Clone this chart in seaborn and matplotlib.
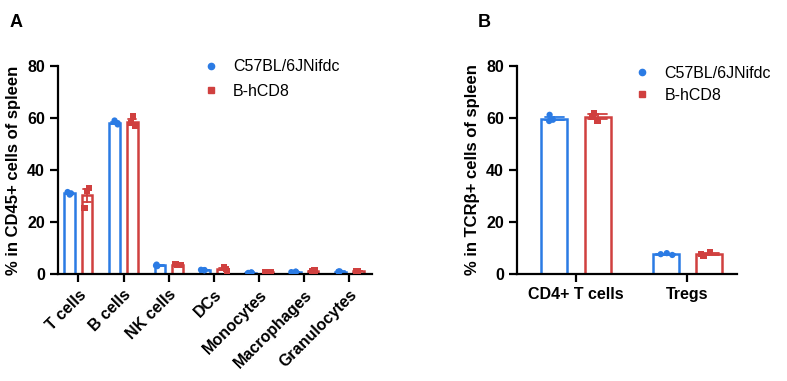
import matplotlib
matplotlib.use("Agg")
import matplotlib.pyplot as plt
import numpy as np
import pandas as pd
import seaborn as sns

np.random.seed(3)

# -----------------------------------------------------------------
# Data (3 mice per group)
# -----------------------------------------------------------------
groups = ["C57BL/6JNifdc", "B-hCD8"]
colors = {"C57BL/6JNifdc": "#2B7BE4", "B-hCD8": "#D0403F"}
markers = {"C57BL/6JNifdc": "o", "B-hCD8": "s"}

cells_a = ["T cells", "B cells", "NK cells", "DCs", "Monocytes", "Macrophages", "Granulocytes"]
wt_a = [
    [30.5, 31.0, 31.5],
    [59.0, 57.5, 58.0],
    [3.6, 3.0, 3.2],
    [1.4, 1.6, 1.5],
    [0.5, 0.4, 0.6],
    [0.8, 0.7, 0.9],
    [0.9, 1.0, 0.8],
]
hcd8_a = [
    [33.0, 32.0, 25.5],
    [60.5, 57.0, 58.0],
    [3.8, 3.3, 3.5],
    [1.0, 2.8, 1.8],
    [0.6, 0.5, 0.7],
    [1.3, 0.9, 1.1],
    [1.0, 1.1, 0.9],
]

cells_b = ["CD4+ T cells", "Tregs"]
wt_b = [
    [58.8, 61.2, 59.3],
    [7.3, 8.0, 7.6],
]
hcd8_b = [
    [62.0, 59.0, 60.5],
    [6.8, 8.5, 7.7],
]


def to_frame(cells, wt, ko):
    rows = []
    for cell, a, b in zip(cells, wt, ko):
        rows += [(cell, groups[0], v) for v in a]
        rows += [(cell, groups[1], v) for v in b]
    return pd.DataFrame(rows, columns=["cell", "group", "value"])


df_a = to_frame(cells_a, wt_a, hcd8_a)
df_b = to_frame(cells_b, wt_b, hcd8_b)

sns.set_style("ticks", {"axes.edgecolor": "black", "text.color": "black",
                        "xtick.color": "black", "ytick.color": "black",
                        "axes.labelcolor": "black"})
plt.rcParams["font.family"] = ["Liberation Sans", "DejaVu Sans"]
plt.rcParams["font.weight"] = "bold"

fig = plt.figure(figsize=(7.87, 3.81), dpi=100)
ax_a = fig.add_axes([0.0737, 0.281, 0.399, 0.546])
ax_b = fig.add_axes([0.657, 0.281, 0.280, 0.546])


def draw(ax, df, order, ylabel):
    # one call per group so each gets its own error-bar colour / marker;
    # dodge=True keeps the slots for both hue levels
    for g in groups:
        sub = df[df.group == g]
        sns.barplot(
            data=sub, x="cell", y="value", hue="group", order=order,
            hue_order=groups, palette=colors, fill=False, width=0.78, gap=0.4,
            dodge=True, errorbar="se", capsize=0.35, linewidth=1.8,
            err_kws={"color": colors[g], "linewidth": 1.3}, ax=ax, legend=False,
        )
        sns.stripplot(
            data=sub, x="cell", y="value", hue="group", order=order,
            hue_order=groups, palette=colors, dodge=True, jitter=0.18,
            marker=markers[g], size=4.5, linewidth=0, ax=ax, legend=False,
        )
    ax.set_ylim(0, 80)
    ax.set_yticks([0, 20, 40, 60, 80])
    ax.set_xlabel("")
    ax.set_ylabel(ylabel, fontsize=12, fontweight="bold")
    sns.despine(ax=ax)
    for s in ["left", "bottom"]:
        ax.spines[s].set_linewidth(1.6)
    ax.tick_params(axis="both", width=1.6, length=6, labelsize=11.5)
    for lab in ax.get_yticklabels() + ax.get_xticklabels():
        lab.set_fontweight("bold")

    handles = [
        plt.Line2D([], [], marker=markers[g], color=colors[g], linestyle="",
                   markersize=4.5)
        for g in groups
    ]
    return handles


handles = draw(ax_a, df_a, cells_a, "% in CD45+ cells of spleen")
ax_a.set_xlim(-0.45, 6.5)
ax_a.set_xticks(range(len(cells_a)))
ax_a.set_xticklabels(cells_a, rotation=45, ha="right", rotation_mode="anchor",
                     fontweight="bold")
ax_a.legend(handles, groups, loc="upper left", bbox_to_anchor=(0.39, 1.10),
            frameon=False, handletextpad=0.4, labelspacing=0.6,
            prop={"size": 11.5, "weight": "normal"})

handles = draw(ax_b, df_b, cells_b, "% in TCRβ+ cells of spleen")
ax_b.set_xlim(-0.53, 1.45)
ax_b.legend(handles, groups, loc="upper left", bbox_to_anchor=(0.43, 1.07),
            frameon=False, handletextpad=0.4, labelspacing=0.45,
            prop={"size": 11.5, "weight": "normal"})

fig.text(0.012, 0.93, "A", fontsize=13, fontweight="bold")
fig.text(0.607, 0.93, "B", fontsize=13, fontweight="bold")

fig.savefig("out.png", dpi=100)
